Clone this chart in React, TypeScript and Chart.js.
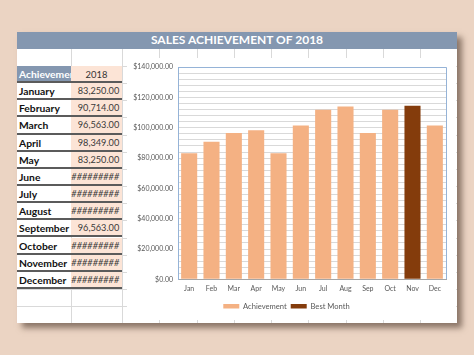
import React, { useEffect, useRef } from 'react';
import { Chart, registerables } from 'chart.js';

Chart.register(...registerables);

// ---- data ----
const chartTitle = 'SALES ACHIEVEMENT OF 2018';
const months = ['Jan', 'Feb', 'Mar', 'Apr', 'May', 'Jun', 'Jul', 'Aug', 'Sep', 'Oct', 'Nov', 'Dec'];
const achievement: (number | null)[] = [83250, 90714, 96563, 98349, 83250, 101600, 111950, 114100, 96563, 111950, null, 101600];
const bestMonth: (number | null)[] = [null, null, null, null, null, null, null, null, null, null, 114580, null];
const tableHeader = ['Achievement', '2018'];
const tableMonths = ['January', 'February', 'March', 'April', 'May', 'June', 'July', 'August', 'September', 'October', 'November', 'December'];
const tableValues = ['83,250.00', '90,714.00', '96,563.00', '98,349.00', '83,250.00', '#########', '#########', '#########', '96,563.00', '#########', '#########', '#########'];
const yMax = 140000;
const yMinorStep = 4000;
const yLabelStep = 20000;

// ---- styles ----
const FONT = 'Lato, "Open Sans", sans-serif';
const BG = '#EBD4C3';
const HEAD = '#8497B0';
const PEACH = '#FCE4D6';
const BAR = '#F4B183';
const BEST = '#843C0C';
const PLOT_BORDER = '#95B3D7';
const GRID = '#D9D9D9';
const TEXT = '#595959';

const SHEET_X = 17;
const SHEET_Y = 32;
const SHEET_W = 440;
const SHEET_H = 291;
const ROW0 = 66;
const ROW_H = 17.15;
const COL_A = 53.7;
const COL_B = 105.3;
const vGrid = [53.7, 105.3, 142.3, 179.7, 217, 254, 291.3, 328.7, 366, 403];

function fmtMoney(v: number) {
  return '$' + v.toLocaleString('en-US', { minimumFractionDigits: 2, maximumFractionDigits: 2 });
}

function SalesChart() {
  const ref = useRef<HTMLCanvasElement | null>(null);
  useEffect(() => {
    if (!ref.current) return;
    const chart = new Chart(ref.current, {
      type: 'bar',
      data: {
        labels: months,
        datasets: [
          { label: 'Achievement', data: achievement, backgroundColor: BAR, grouped: false, barPercentage: 0.72, categoryPercentage: 1 } as any,
          { label: 'Best Month', data: bestMonth, backgroundColor: BEST, grouped: false, barPercentage: 0.72, categoryPercentage: 1 } as any,
        ],
      },
      options: {
        responsive: false,
        animation: false,
        devicePixelRatio: 1,
        layout: { padding: { top: 8.7, right: 10, left: 0, bottom: 0 } },
        plugins: {
          legend: {
            position: 'bottom',
            labels: { boxWidth: 16, boxHeight: 4.5, padding: 4, color: TEXT, font: { family: FONT, size: 7.6 } },
          },
          tooltip: { enabled: false },
        },
        scales: {
          x: {
            grid: {
              offset: true,
              drawTicks: false,
              color: (c: any) => (c.tick ? 'rgba(0,0,0,0)' : PLOT_BORDER),
            },
            border: { color: '#A6A6A6' },
            ticks: { padding: 5, color: TEXT, font: { family: FONT, size: 7 } },
            afterFit: (s: any) => { s.height = 19.1; },
          },
          y: {
            min: 0,
            max: yMax,
            grid: {
              drawTicks: false,
              color: (c: any) => (c.tick && c.tick.value === yMax ? PLOT_BORDER : GRID),
            },
            border: { color: PLOT_BORDER },
            ticks: {
              stepSize: yMinorStep,
              autoSkip: false,
              padding: 5,
              color: TEXT,
              font: { family: FONT, size: 7 },
              callback: (v: any) => (Number(v) % yLabelStep === 0 ? fmtMoney(Number(v)) : ''),
            },
            afterFit: (s: any) => { s.width = 51; },
          },
        },
      } as any,
    });
    return () => chart.destroy();
  }, []);
  return <canvas ref={ref} width={329} height={262} style={{ display: 'block' }} />;
}

export default function App() {
  const rowTop = (i: number) => ROW0 + i * ROW_H - SHEET_Y;
  return (
    <div style={{ position: 'absolute', left: 0, top: 0, width: 474, height: 355, background: BG, overflow: 'hidden', fontFamily: FONT }}>
      <div style={{ position: 'absolute', left: SHEET_X, top: SHEET_Y, width: SHEET_W, height: SHEET_H, background: '#fff', boxShadow: '5px 5px 6px rgba(60,40,30,0.55)' }}>
        {/* sheet grid */}
        {vGrid.map((x, i) => (
          <div key={'v' + i} style={{ position: 'absolute', left: x, top: 16, width: 1, height: SHEET_H - 16, background: GRID }} />
        ))}
        {Array.from({ length: 15 }).map((_, i) => (
          <div key={'h' + i} style={{ position: 'absolute', left: 0, top: rowTop(i), width: SHEET_W, height: 1, background: GRID }} />
        ))}
        {/* title */}
        <div style={{ position: 'absolute', left: 0, top: 0, width: SHEET_W, height: 16.5, background: HEAD, color: '#fff', fontWeight: 700, fontSize: 12, lineHeight: '16.5px', textAlign: 'center' }}>{chartTitle}</div>
        {/* table header */}
        <div style={{ position: 'absolute', left: 0, top: rowTop(0), width: COL_A, height: ROW_H, background: HEAD, color: '#fff', fontWeight: 700, fontSize: 10.3, lineHeight: ROW_H + 'px', paddingLeft: 2, boxSizing: 'border-box', overflow: 'hidden', whiteSpace: 'nowrap', borderBottom: '2px solid #5b5b5b' }}>{tableHeader[0]}</div>
        <div style={{ position: 'absolute', left: COL_A, top: rowTop(0), width: COL_B - COL_A, height: ROW_H, background: PEACH, color: '#333', fontSize: 9.4, lineHeight: ROW_H + 'px', textAlign: 'center', boxSizing: 'border-box', borderBottom: '2px solid #5b5b5b' }}>{tableHeader[1]}</div>
        {tableMonths.map((m, i) => (
          <React.Fragment key={m}>
            <div style={{ position: 'absolute', left: 0, top: rowTop(i + 1), width: COL_A, height: ROW_H, background: '#fff', color: '#111', fontWeight: 700, fontSize: 10.3, lineHeight: ROW_H - 1 + 'px', paddingLeft: 2, boxSizing: 'border-box', whiteSpace: 'nowrap', borderBottom: '2px solid #5b5b5b' }}>{m}</div>
            <div style={{ position: 'absolute', left: COL_A, top: rowTop(i + 1), width: COL_B - COL_A, height: ROW_H, background: PEACH, color: '#3a3a3a', fontSize: 9.2, fontStyle: tableValues[i].startsWith('#') ? 'italic' : 'normal', lineHeight: ROW_H - 1 + 'px', textAlign: 'right', paddingRight: 3, boxSizing: 'border-box', whiteSpace: 'nowrap', borderBottom: '2px solid #5b5b5b' }}>{tableValues[i]}</div>
          </React.Fragment>
        ))}
        {/* chart object */}
        <div style={{ position: 'absolute', left: 127 - SHEET_X, top: 58 - SHEET_Y, width: 329, height: 262, background: '#fff' }}>
          <SalesChart />
        </div>
      </div>
    </div>
  );
}
